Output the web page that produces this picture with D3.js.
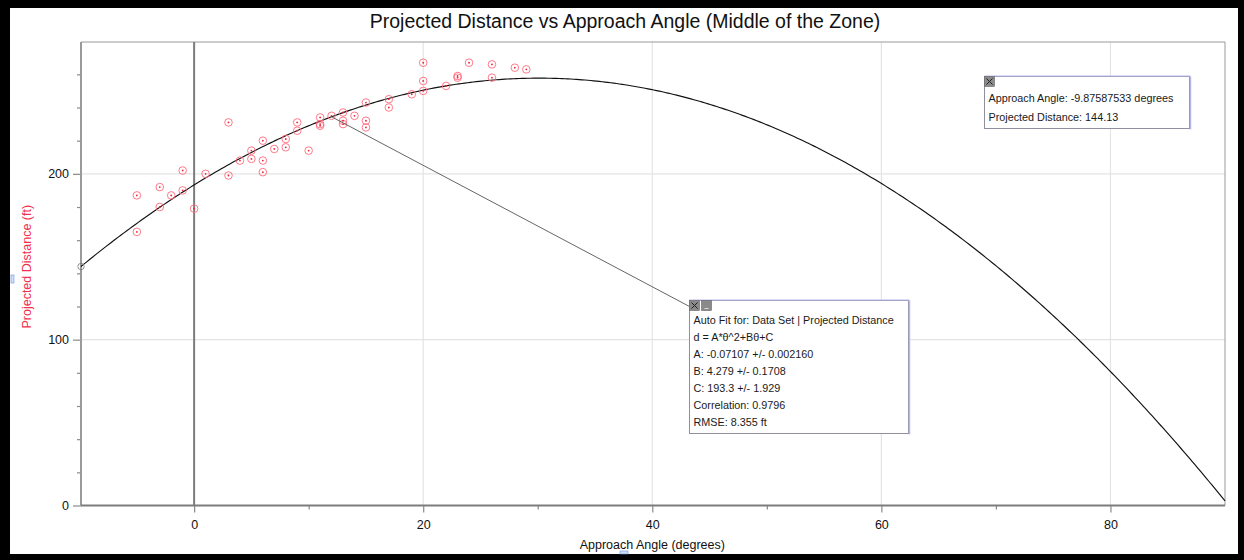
<!DOCTYPE html>
<html>
<head>
<meta charset="utf-8">
<script src="https://cdn.jsdelivr.net/npm/d3@7"></script>
<style>
  html, body { margin: 0; padding: 0; background: #000; }
  svg { display: block; font-family: "Liberation Sans", Arial, Helvetica, sans-serif; }
</style>
</head>
<body>
<div id="svg-container"></div>
<script>
// measured approach angles (degrees) and projected distances (ft)
const angles = [-5, -5, -3, -3, -2, -1, -1, 0, 1, 3, 3, 4, 5, 5, 6, 6, 6, 7, 8, 8, 9, 9, 10, 11, 11, 11, 12, 13, 13, 13,
  14, 15, 15, 15, 17, 17, 19, 20, 20, 20, 22, 23, 23, 24, 26, 26, 28, 29]
const distances = [187, 165, 192, 180, 187, 202, 190, 179, 200, 231, 199, 208, 214, 209, 220, 208, 201, 215, 221, 216,
  231, 226, 214, 234, 230, 229, 235, 237, 232, 230, 235, 243, 232, 228, 245, 240, 248, 267, 256, 250, 253, 259, 258,
  267, 266, 258, 264, 263]

// quadratic auto fit d = A*θ^2 + Bθ + C
const fitA = -0.07107
const fitB = 4.279
const fitC = 193.3

const xMajorTicks = [0, 20, 40, 60, 80]
const xMinorTicks = [10, 30, 50, 70]
const yMajorTicks = [0, 100, 200]
const yMinorTicks = [20, 40, 60, 80, 120, 140, 160, 180, 220, 240, 260]

const xDomain = [-9.87587533, 90]
const yDomain = [0, 279.5]

const fitLines = [
  'Auto Fit for: Data Set | Projected Distance',
  'd = A*θ^2+Bθ+C',
  'A: -0.07107 +/- 0.002160',
  'B: 4.279 +/- 0.1708',
  'C: 193.3 +/- 1.929',
  'Correlation: 0.9796',
  'RMSE: 8.355 ft',
]
const readoutLines = [
  'Approach Angle: -9.87587533 degrees',
  'Projected Distance: 144.13',
]
const fitAnchorAngle = 12

const width = 1244
const height = 560
const plot = { left: 81, right: 1225, top: 42, bottom: 505.5 }

const svg = d3.select('#svg-container').append('svg')
  .attr('width', width)
  .attr('height', height)

svg.append('rect').attr('width', width).attr('height', height).attr('fill', '#000')
svg.append('rect').attr('x', 10).attr('y', 8).attr('width', 1228).attr('height', 546).attr('fill', '#fff')

const x = d3.scaleLinear().domain(xDomain).range([plot.left, plot.right])
const y = d3.scaleLinear().domain(yDomain).range([plot.bottom, plot.top])

const fit = t => fitA * t * t + fitB * t + fitC

// title
svg.append('text')
  .attr('x', 625).attr('y', 28)
  .attr('text-anchor', 'middle')
  .attr('font-size', 19.5)
  .attr('fill', '#111')
  .text('Projected Distance vs Approach Angle (Middle of the Zone)')

// grid
const grid = svg.append('g')
grid.selectAll('.vg').data(xMajorTicks.filter(d => d !== 0)).join('line')
  .attr('x1', d => x(d)).attr('x2', d => x(d))
  .attr('y1', plot.top).attr('y2', plot.bottom)
  .attr('stroke', '#e4e4e4').attr('stroke-width', 1.2)
grid.selectAll('.hg').data(yMajorTicks.filter(d => d !== 0)).join('line')
  .attr('x1', plot.left).attr('x2', plot.right)
  .attr('y1', d => y(d)).attr('y2', d => y(d))
  .attr('stroke', '#e4e4e4').attr('stroke-width', 1.2)

// plot frame
svg.append('line').attr('x1', plot.left).attr('x2', plot.right).attr('y1', plot.top).attr('y2', plot.top)
  .attr('stroke', '#9a9a9a').attr('stroke-width', 1)
svg.append('line').attr('x1', plot.right).attr('x2', plot.right).attr('y1', plot.top).attr('y2', plot.bottom)
  .attr('stroke', '#9a9a9a').attr('stroke-width', 1)

// axes
const xAxisMajor = d3.axisBottom(x).tickValues(xMajorTicks).tickSize(7).tickPadding(8).tickFormat(d3.format('d'))
const xAxisMinor = d3.axisBottom(x).tickValues(xMinorTicks).tickSize(4).tickFormat('')
const yAxisMajor = d3.axisLeft(y).tickValues(yMajorTicks).tickSize(8).tickPadding(4).tickFormat(d3.format('d'))
const yAxisMinor = d3.axisLeft(y).tickValues(yMinorTicks).tickSize(4).tickFormat('')

function styleAxis(g) {
  g.select('.domain').remove()
  g.selectAll('.tick line').attr('stroke', '#8a8a8a').attr('stroke-width', 1.2)
  g.selectAll('.tick text').attr('fill', '#111').attr('font-size', 12.5)
    .attr('font-family', '"Liberation Sans", Arial, sans-serif')
}

svg.append('g').attr('transform', `translate(0,${plot.bottom})`).call(xAxisMinor).call(styleAxis)
svg.append('g').attr('transform', `translate(0,${plot.bottom})`).call(xAxisMajor).call(styleAxis)
svg.append('g').attr('transform', `translate(${plot.left},0)`).call(yAxisMinor).call(styleAxis)
svg.append('g').attr('transform', `translate(${plot.left},0)`).call(yAxisMajor).call(styleAxis)

// zero lines / axis lines
svg.append('line').attr('x1', x(0)).attr('x2', x(0)).attr('y1', plot.top).attr('y2', plot.bottom)
  .attr('stroke', '#7c7c7c').attr('stroke-width', 2)
svg.append('line').attr('x1', plot.left).attr('x2', plot.left).attr('y1', plot.top).attr('y2', plot.bottom)
  .attr('stroke', '#9a9a9a').attr('stroke-width', 2)
svg.append('line').attr('x1', plot.left).attr('x2', plot.right).attr('y1', y(0)).attr('y2', y(0))
  .attr('stroke', '#7c7c7c').attr('stroke-width', 2)

// axis labels
svg.append('text')
  .attr('x', x(40)).attr('y', 549)
  .attr('text-anchor', 'middle')
  .attr('font-size', 12.5)
  .attr('fill', '#111')
  .text('Approach Angle (degrees)')

svg.append('text')
  .attr('transform', `translate(31,${y(144)}) rotate(-90)`)
  .attr('text-anchor', 'middle')
  .attr('font-size', 12.5)
  .attr('fill', '#f2304e')
  .text('Projected Distance (ft)')

// small handle markers
svg.append('rect').attr('x', 11).attr('y', 275).attr('width', 3).attr('height', 8)
  .attr('fill', '#cfe0ff').attr('stroke', '#6b8fd6').attr('stroke-width', 0.6)
svg.append('rect').attr('x', 620).attr('y', 551).attr('width', 8).attr('height', 3)
  .attr('fill', '#cfe0ff').attr('stroke', '#6b8fd6').attr('stroke-width', 0.6)

// fit curve
const curvePts = d3.range(xDomain[0], xDomain[1] + 0.001, 0.25).map(t => [t, fit(t)])
curvePts.push([xDomain[1], fit(xDomain[1])])
svg.append('path')
  .datum(curvePts)
  .attr('fill', 'none')
  .attr('stroke', '#111')
  .attr('stroke-width', 1.15)
  .attr('d', d3.line().x(d => x(d[0])).y(d => y(d[1])))

// readout marker at left end of curve
svg.append('circle')
  .attr('cx', x(xDomain[0])).attr('cy', y(fit(xDomain[0])))
  .attr('r', 3.2).attr('fill', 'none').attr('stroke', '#777').attr('stroke-width', 0.8)

// data points
const data = angles.map((a, i) => ({ a, d: distances[i] }))
const pts = svg.append('g')
pts.selectAll('circle.ring').data(data).join('circle')
  .attr('class', 'ring')
  .attr('cx', d => x(d.a)).attr('cy', d => y(d.d))
  .attr('r', 3.8)
  .attr('fill', 'none')
  .attr('stroke', '#ff6b7d')
  .attr('stroke-width', 0.9)
pts.selectAll('circle.dot').data(data).join('circle')
  .attr('class', 'dot')
  .attr('cx', d => x(d.a)).attr('cy', d => y(d.d))
  .attr('r', 0.9)
  .attr('fill', '#f0203c')

// leader line from fit box to curve
const fitBox = { x: 689.5, y: 300.5, w: 219, h: 133 }
svg.append('line')
  .attr('x1', x(fitAnchorAngle)).attr('y1', y(fit(fitAnchorAngle)))
  .attr('x2', fitBox.x).attr('y2', fitBox.y + 6)
  .attr('stroke', '#666').attr('stroke-width', 1)

function infoBox(box, lines, firstBaseline, step, buttons) {
  const g = svg.append('g')
  g.append('rect')
    .attr('x', box.x).attr('y', box.y).attr('width', box.w).attr('height', box.h)
    .attr('fill', '#fff').attr('stroke', '#8f8f9e').attr('stroke-width', 1)
  g.append('line')
    .attr('x1', box.x + box.w + 1).attr('x2', box.x + box.w + 1)
    .attr('y1', box.y).attr('y2', box.y + box.h + 1)
    .attr('stroke', '#b8b8f0').attr('stroke-width', 1.5)
  g.append('line')
    .attr('x1', box.x).attr('x2', box.x + box.w + 1)
    .attr('y1', box.y - 0.5).attr('y2', box.y - 0.5)
    .attr('stroke', '#b8b8f0').attr('stroke-width', 1)
  buttons.forEach((b, i) => {
    const bx = box.x + i * 12
    g.append('rect').attr('x', bx).attr('y', box.y).attr('width', 10).attr('height', 10)
      .attr('fill', '#8a8a8a').attr('stroke', '#666').attr('stroke-width', 0.6)
    if (b === 'x') {
      g.append('path')
        .attr('d', `M${bx + 2},${box.y + 2}L${bx + 8},${box.y + 8}M${bx + 8},${box.y + 2}L${bx + 2},${box.y + 8}`)
        .attr('stroke', '#222').attr('stroke-width', 1)
    } else {
      g.append('line').attr('x1', bx + 3).attr('x2', bx + 7).attr('y1', box.y + 8).attr('y2', box.y + 8)
        .attr('stroke', '#ddd').attr('stroke-width', 1)
    }
  })
  g.selectAll('text').data(lines).join('text')
    .attr('x', box.x + 4)
    .attr('y', (d, i) => firstBaseline + i * step)
    .attr('font-size', 10.8)
    .attr('fill', '#1a1a1a')
    .text(d => d)
}

infoBox(fitBox, fitLines, 324, 17, ['x', '_'])
infoBox({ x: 984.5, y: 76.5, w: 205, h: 52 }, readoutLines, 101.5, 19, ['x'])
</script>
</body>
</html>
